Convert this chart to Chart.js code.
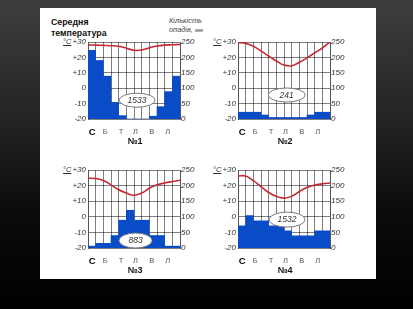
<!DOCTYPE html>
<html>
<head>
<meta charset="utf-8">
<script src="https://cdn.jsdelivr.net/npm/chart.js@4.4.1/dist/chart.umd.min.js"></script>
<style>
  html, body { margin:0; padding:0; }
  body { width:413px; height:309px; overflow:hidden; position:relative;
         background: linear-gradient(to bottom, #3e3e3e 0%, #262626 35%, #0b0b0b 70%, #000 100%);
         font-family: "Liberation Sans", Arial, sans-serif; }
  #panel { position:absolute; left:40px; top:8px; width:336px; height:271px; background:#fff; }
  .abs { position:absolute; white-space:nowrap; }
  .head { font-weight:bold; font-size:8.8px; line-height:11px; color:#111; }
  .rain { font-style:italic; font-size:7.4px; line-height:9px; color:#444; }
  .rain small { font-size:5.8px; }
  .deg { font-style:italic; font-size:7.5px; line-height:9px; color:#333; text-decoration:underline; }
  .num { font-weight:bold; font-size:9px; line-height:10px; color:#111; width:40px; text-align:center; }
  canvas { position:absolute; }
</style>
</head>
<body>
<div id="panel"></div>
<div class="abs head" style="left:51px; top:17px;">Середня<br>температура</div>
<div class="abs rain" style="left:169px; top:16px;">Кількість<br>опадів, <small>мм</small></div>
<script>
// ---- data ----
const months = ['Січень','Лютий','Березень','Квітень','Травень','Червень','Липень','Серпень','Вересень','Жовтень','Листопад','Грудень'];
const xTickLabels = ['С','Б','Т','Л','В','Л'];
// temperature readings along the year (at month boundaries 0..12)
const tempPos = [0,1,2,3,4,5,6,7,8,9,10,11,12];
const temp1 = [28, 28, 27.8, 27.6, 27.2, 26, 24.6, 24.8, 26.2, 27.4, 28, 28.2, 28.4];
const temp2 = [29.6, 29.1, 27.2, 24.2, 20.9, 17.7, 15, 14.6, 16.8, 19.7, 22.9, 26.1, 30];
const temp3 = [24.7, 24.5, 23.2, 20.5, 17.3, 15.2, 13.8, 15.2, 18.3, 20.5, 21.7, 22.6, 23.4];
const temp4 = [26.2, 26.2, 23.2, 19.4, 15.6, 13.1, 12, 13.1, 16.2, 18.8, 20.3, 21.1, 21.7];
// monthly precipitation, mm
const precip1 = [223, 190, 139, 54, 11, 0, 0, 0, 9, 40, 89, 139];
const precip2 = [22, 22, 22, 13, 5, 5, 5, 5, 5, 13, 22, 22];
const precip3 = [6, 15, 15, 40, 89, 121, 89, 89, 40, 40, 6, 6];
const precip4 = [71, 104, 87, 87, 71, 71, 55, 39, 39, 39, 55, 55];
const totals = ['1533', '241', '883', '1532'];
const chartNames = ['№1', '№2', '№3', '№4'];

// ---- layout ----
const charts = [
  { temp: temp1, precip: precip1, total: totals[0], name: chartNames[0], plotL: 88, plotT: 42, plotW: 92, plotH: 77, oval: {x: 6.4, y: 61, w: 36, h: 14} },
  { temp: temp2, precip: precip2, total: totals[1], name: chartNames[1], plotL: 238, plotT: 42, plotW: 92, plotH: 77, oval: {x: 6.35, y: 78, w: 37, h: 14} },
  { temp: temp3, precip: precip3, total: totals[2], name: chartNames[2], plotL: 88, plotT: 170, plotW: 92, plotH: 78, oval: {x: 6.2, y: 24, w: 33, h: 15} },
  { temp: temp4, precip: precip4, total: totals[3], name: chartNames[3], plotL: 238, plotT: 170, plotW: 92, plotH: 78, oval: {x: 6.4, y: 91, w: 36, h: 15} }
];
const xLabelPos = [0.55, 2.25, 4.3, 6.2, 8.3, 10.4];
const LEFT_W = 30, RIGHT_W = 22, TOP_PAD = 8, BOTTOM_H = 20;

const ovalPlugin = {
  id: 'totalOval',
  afterDraw(chart, args, o) {
    const ctx = chart.ctx;
    const cx = chart.scales.xt.getPixelForValue(o.x);
    const cy = chart.scales.y2.getPixelForValue(o.y);
    ctx.save();
    ctx.beginPath();
    ctx.ellipse(cx, cy, o.w / 2, o.h / 2, 0, 0, Math.PI * 2);
    ctx.fillStyle = '#ffffff';
    ctx.fill();
    ctx.lineWidth = 1;
    ctx.strokeStyle = '#7a7a7a';
    ctx.stroke();
    ctx.fillStyle = '#333';
    ctx.font = 'italic 8.5px "Liberation Sans", Arial, sans-serif';
    ctx.textAlign = 'center';
    ctx.textBaseline = 'middle';
    ctx.fillText(o.text, cx, cy + 0.5);
    ctx.restore();
  }
};

const GRID = 'rgba(0,0,0,0.5)';

charts.forEach((c, k) => {
  const cv = document.createElement('canvas');
  const W = LEFT_W + c.plotW + RIGHT_W, H = TOP_PAD + c.plotH + BOTTOM_H;
  cv.width = W; cv.height = H;
  cv.style.left = (c.plotL - LEFT_W) + 'px';
  cv.style.top = (c.plotT - TOP_PAD) + 'px';
  cv.style.width = W + 'px'; cv.style.height = H + 'px';
  document.body.appendChild(cv);

  const deg = document.createElement('div');
  deg.className = 'abs deg';
  deg.style.left = (c.plotL - 25) + 'px';
  deg.style.top = (c.plotT - 5) + 'px';
  deg.textContent = '°C';
  document.body.appendChild(deg);

  const nm = document.createElement('div');
  nm.className = 'abs num';
  nm.style.left = (c.plotL + c.plotW / 2 - 20 + 1) + 'px';
  nm.style.top = (c.plotT + c.plotH + 17) + 'px';
  nm.textContent = c.name;
  document.body.appendChild(nm);

  new Chart(cv, {
    type: 'bar',
    data: {
      labels: months,
      datasets: [
        { type: 'line', data: tempPos.map((p, i) => ({x: p, y: c.temp[i]})), xAxisID: 'xt', yAxisID: 'y',
          borderColor: '#c42a35', borderWidth: 1.6, pointRadius: 0, tension: 0.4, fill: false, order: 0 },
        { type: 'bar', data: c.precip, xAxisID: 'x', yAxisID: 'y2', backgroundColor: '#0a4cc8',
          borderWidth: 0, barPercentage: 1, categoryPercentage: 1, grouped: false, order: 1 }
      ]
    },
    options: {
      responsive: false, animation: false, devicePixelRatio: 1,
      datasets: { bar: { barPercentage: 1, categoryPercentage: 1 } },
      layout: { padding: { top: TOP_PAD, left: 0, right: 0, bottom: 0 } },
      plugins: { legend: { display: false }, tooltip: { enabled: false }, title: { display: false },
                 totalOval: Object.assign({ text: c.total }, c.oval) },
      scales: {
        x: { type: 'category', position: 'bottom', offset: true, z: 1,
             grid: { display: true, offset: true, color: GRID, lineWidth: 1, drawTicks: false },
             border: { display: false }, ticks: { display: false },
             afterFit: s => { s.height = 0; } },
        xt: { type: 'linear', position: 'bottom', min: 0, max: 12, offset: false,
              grid: { display: false, drawTicks: false }, border: { display: false },
              afterBuildTicks: axis => { axis.ticks = xLabelPos.map(v => ({ value: v })); },
              ticks: { autoSkip: false, maxRotation: 0, padding: 8,
                       callback: (v, i) => xTickLabels[i],
                       color: ctx => ctx.index === 0 ? '#000' : '#555',
                       font: ctx => ctx.index === 0
                         ? { family: '"Liberation Sans", Arial, sans-serif', size: 9.5, weight: 'bold' }
                         : { family: '"Liberation Sans", Arial, sans-serif', size: 7.5, weight: 'normal' } },
              afterFit: s => { s.height = BOTTOM_H; } },
        y: { type: 'linear', position: 'left', min: -20, max: 30, z: 1,
             grid: { color: GRID, lineWidth: 1, drawTicks: false },
             border: { display: true, color: '#555' },
             ticks: { stepSize: 10, padding: 2, color: '#333',
                      font: { family: '"Liberation Sans", Arial, sans-serif', size: 8, style: 'italic' },
                      callback: v => (v > 0 ? '+' + v : String(v)) },
             afterFit: s => { s.width = LEFT_W; } },
        y2: { type: 'linear', position: 'right', min: 0, max: 250, z: 1,
              grid: { display: false, drawTicks: false },
              border: { display: true, color: '#555' },
              ticks: { stepSize: 50, padding: 1, color: '#333',
                       font: { family: '"Liberation Sans", Arial, sans-serif', size: 8, style: 'italic' } },
              afterFit: s => { s.width = RIGHT_W; } }
      }
    },
    plugins: [ovalPlugin]
  });
});
</script>
</body>
</html>
